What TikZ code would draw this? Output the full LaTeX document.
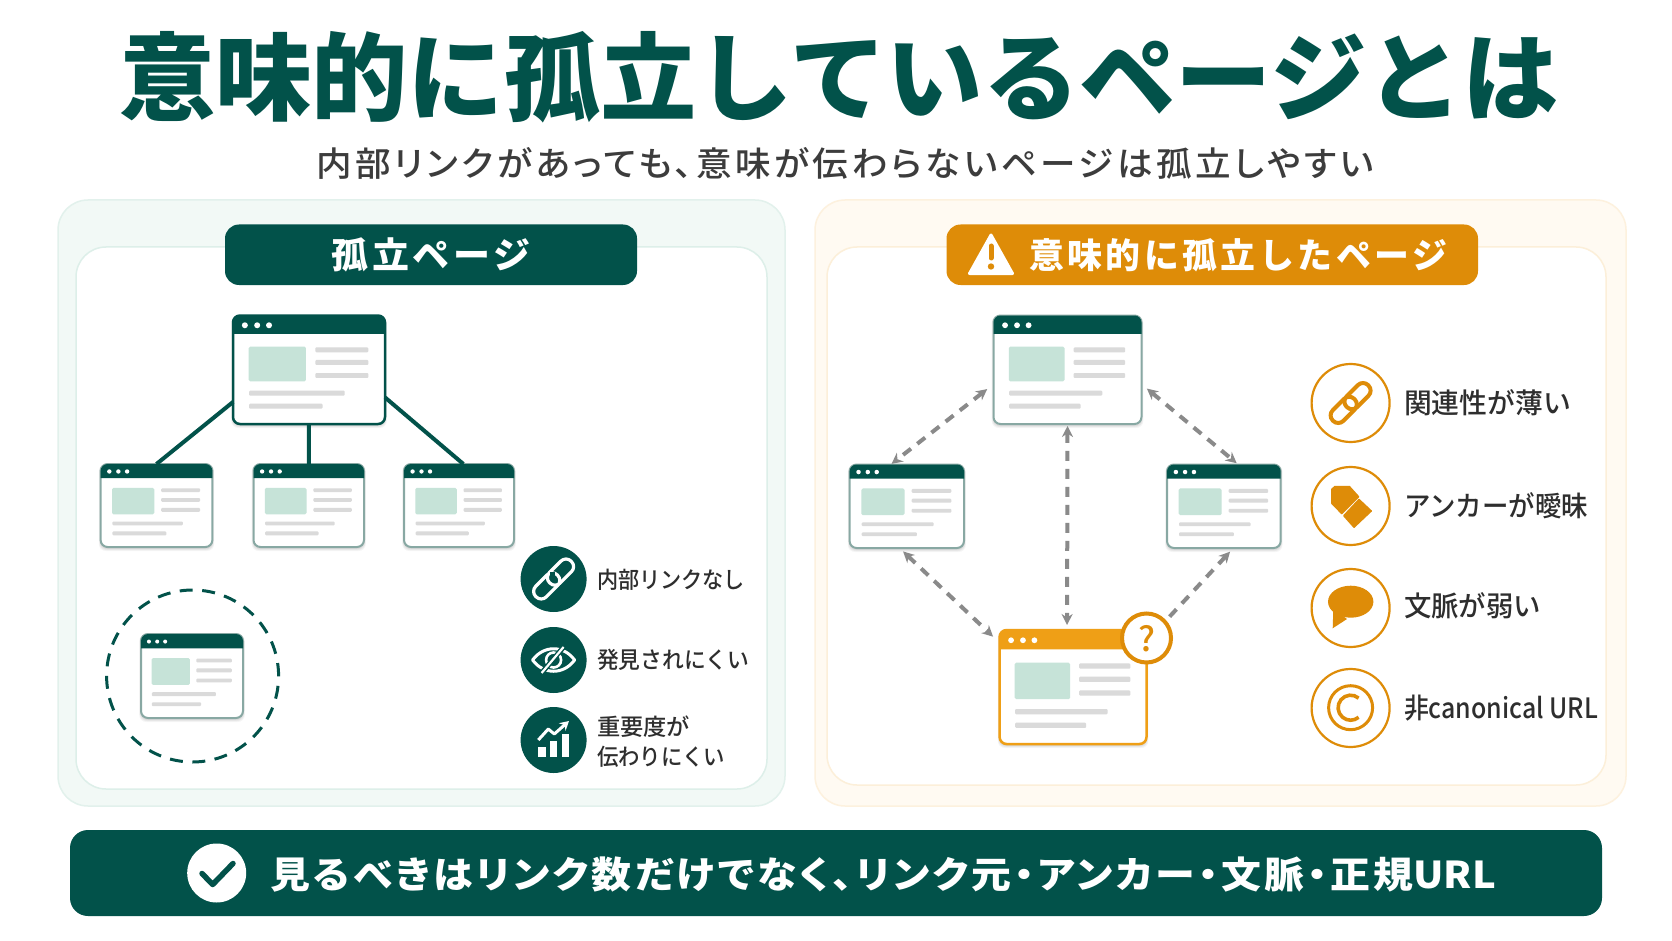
\documentclass[tikz,border=0pt]{standalone}
\usepackage{graphicx}
\usepackage{fontspec}
\usetikzlibrary{fit,arrows.meta,calc}
\newfontfamily\jp{Noto Sans CJK JP}
\newfontfamily\jpm{Noto Sans CJK JP Medium}
\newfontfamily\jpsub{Noto Sans CJK JP Medium}[RawFeature=+palt,LetterSpace=10]
\newfontfamily\jpbar{Noto Sans CJK JP}[RawFeature=+palt,LetterSpace=8]
\newfontfamily\jppill{Noto Sans CJK JP}[LetterSpace=10]
\newcommand\nakaguro{\kern3pt・\kern3pt}
\definecolor{dk}{HTML}{02524A}
\definecolor{org}{HTML}{DE8C08}
\definecolor{orgl}{HTML}{EF9F16}
\definecolor{imgc}{HTML}{C6E3D8}
\definecolor{gl}{HTML}{DADADA}
\definecolor{gbd}{HTML}{88A8A3}
\definecolor{txt}{HTML}{2E2E2E}
\definecolor{subt}{HTML}{3C3C3C}
\definecolor{arr}{HTML}{8A8A8A}
\definecolor{lofill}{HTML}{F2F9F6}
\definecolor{lobd}{HTML}{E2F1EC}
\definecolor{libd}{HTML}{DDEFE9}
\definecolor{rofill}{HTML}{FFFAF2}
\definecolor{robd}{HTML}{FDF1DE}
\definecolor{ribd}{HTML}{FCEFD9}
\tikzset{
 box/.style={inner sep=0pt,outer sep=0pt,rounded corners=#1},
 box/.default=30pt,
 txtnode/.style={inner sep=0pt,outer sep=0pt},
 dasharrow/.style={draw=arr,line width=4pt,dash pattern=on 10pt off 8pt},
 bothtips/.style={{Stealth[length=11pt,width=11pt]}-{Stealth[length=11pt,width=11pt]}},
 endtip/.style={-{Stealth[length=11pt,width=11pt]}},
 iconline/.style={line width=#1,line cap=round,line join=round},
}
% #1 name #2 x1 #3 y1 #4 x2 #5 y2 #6 header colour #7 border colour #8 line width
\newcommand\browser[8]{%
 \foreach \d/\o in {1/.06,2/.05,3/.04}{\fill[black,opacity=\o,rounded corners=7pt] ($(#2-\d*.6,#3)$) rectangle ($(#4+\d*.6,#5+\d+1)$);}%
 \node[fit={(#2,#3)(#4,#5)},box=7pt,draw=#7,fill=white,line width=#8pt] (#1) {};
 \pgfmathsetmacro\bw{#4-#2}\pgfmathsetmacro\bh{#5-#3}\pgfmathsetmacro\rd{\bw*3/152}%
 \begin{scope}[shift={(#2,#3)},x=\bw pt,y=-\bh pt]
  \fill[#6] (0,.17) {[rounded corners=7pt] -- (0,0) -- (1,0)} -- (1,.17) -- cycle;
  \foreach \q in {.078,.159,.237}{\fill[white] (\q,.09) circle[radius=\rd pt];}
  \fill[imgc,rounded corners=1.5pt] (.103,.287) rectangle (.48,.607);
  \foreach \q in {.316,.433,.553}{\fill[gl,rounded corners=1pt] (.542,\q-.023) rectangle (.89,\q+.023);}
  \fill[gl,rounded corners=1pt] (.106,.716-.023) rectangle (.735,.716+.023);
  \fill[gl,rounded corners=1pt] (.106,.836-.023) rectangle (.589,.836+.023);
 \end{scope}
}
% #1 name #2 x #3 y #4 width #5 anchor #6 colour #7 font #8 size #9 text
\newcommand\lab[9]{\node[txtnode,anchor=#5,text=#6] (#1) at (#2,#3) {\resizebox{#4pt}{\height}{#7\fontsize{#8}{#8}\selectfont #9}};}
\newcommand\chain[4]{%
 \begin{scope}[shift={(#1,#2)},rotate=45]
  \draw[#3,line width=#4pt,rounded corners=7.2pt] (-25,-7.5) rectangle (5.5,7.5);
  \draw[#3,line width=#4pt,rounded corners=7.2pt] (-5.5,-7.5) rectangle (25,7.5);
 \end{scope}}
\begin{document}
\begin{tikzpicture}[x=1pt,y=-1pt]
\useasboundingbox (0,0) rectangle (1672,941);
\fill[white] (0,0) rectangle (1672,941);
% title
\lab{title}{119}{77}{1440}{west}{dk}{\jp\bfseries}{96}{意味的に孤立しているページとは}
\lab{subtitle}{316}{163}{1058}{west}{subt}{\jpsub}{34}{内部リンクがあっても、意味が伝わらないページは孤立しやすい}
% left panel
\node[fit={(58,200)(785,806)},box,draw=lobd,fill=lofill,line width=1.5pt] (lo) {};
\node[fit={(76,247)(767,789)},box,draw=libd,fill=white,line width=1.5pt] (li) {};
\node[fit={(225,224.5)(637,285)},box=14pt,fill=dk] (lp) {};
\lab{lpt}{431}{255}{199}{center}{white}{\jppill\bfseries}{36}{孤立ページ}
\browser{lroot}{233}{315.5}{385}{424}{dk}{dk}{2.5}
\browser{la}{100.6}{464}{212.4}{547}{dk}{gbd}{2}
\browser{lb}{253.5}{464}{364}{547}{dk}{gbd}{2}
\browser{lc}{404}{464}{514}{547}{dk}{gbd}{2}
\draw[dk,line width=4pt] (lroot.203) -- (la.north);
\draw[dk,line width=4pt] (lroot.south) -- (lb.north);
\draw[dk,line width=4pt] (lroot.-20) -- (lc.84);
\node[draw=dk,circle,line width=3pt,dash pattern=on 13pt off 9.5pt,minimum size=172pt,inner sep=0pt,outer sep=0pt] (iso) at (192.6,676) {};
\browser{lz}{141}{634}{243}{718}{dk}{gbd}{2}
% left icons
\node[circle,fill=dk,minimum size=66pt,inner sep=0pt] (ic1) at (553.6,579) {};
\node[circle,fill=dk,minimum size=66pt,inner sep=0pt] (ic2) at (553.6,660) {};
\node[circle,fill=dk,minimum size=66pt,inner sep=0pt] (ic3) at (553.6,740) {};
\chain{553.6}{579}{white}{3.2}
\fill[dk] (550,572) rectangle (555,577);
\begin{scope}[shift={(553.6,660)}]
 \draw[white,iconline=3pt] (-21,0) .. controls (-10,-15) and (10,-15) .. (21,0) .. controls (10,15) and (-10,15) .. (-21,0) -- cycle;
 \draw[white,line width=2.6pt] (0,0) circle[radius=7.5pt];
 \draw[dk,line width=5pt] (-12,13) -- (10,-13);
 \draw[white,line width=2.2pt] (-12,13) -- (10,-13);
\end{scope}
\fill[white] (537.7,746.7) rectangle (545.7,757.3);
\fill[white] (550,740.7) rectangle (557.3,757.3);
\fill[white] (562.3,734) rectangle (569.3,757.3);
\draw[white,line width=3pt,line join=round,-{Stealth[length=9pt,width=10pt]}] (538.3,740) -- (548.3,729) -- (554.3,734) -- (569,721);
\lab{t1}{597}{580}{148}{west}{txt}{\jpm}{23}{内部リンクなし}
\lab{t2}{597}{660}{152}{west}{txt}{\jpm}{23}{発見されにくい}
\lab{t3}{597}{727}{93}{west}{txt}{\jpm}{23}{重要度が}
\lab{t4}{597}{757}{128}{west}{txt}{\jpm}{23}{伝わりにくい}
% right panel
\node[fit={(815,200)(1626,806)},box,draw=robd,fill=rofill,line width=1.5pt] (ro) {};
\node[fit={(827,247)(1606,785)},box,draw=ribd,fill=white,line width=1.5pt] (ri) {};
\node[fit={(946.5,224.5)(1478,285)},box=14pt,fill=org] (rp) {};
\fill[white,draw=white,line width=3pt,line join=round] (991,235) -- (1012.5,273.5) -- (969.5,273.5) -- cycle;
\draw[org,line width=5pt,line cap=round] (991,246) -- (991,258);
\fill[org] (991,266.5) circle[radius=3.2pt];
\lab{rpt}{1029}{255}{418}{west}{white}{\jppill\bfseries}{35}{意味的に孤立したページ}
\browser{rtop}{993.5}{315.5}{1141.5}{424}{dk}{gbd}{2}
\browser{rleft}{849.6}{464.5}{964}{548}{dk}{gbd}{2}
\browser{rright}{1167}{464.5}{1280.7}{548}{dk}{gbd}{2}
\browser{rq}{999.6}{630}{1146.5}{744}{orgl}{orgl}{2.5}
\node[circle,draw=org,fill=white,line width=4pt,minimum size=49pt,inner sep=0pt] (qb) at (1146.5,638) {};
\lab{qm}{1146.5}{639}{17}{center}{org}{\jpm}{34}{?}
\draw[dasharrow,bothtips,shorten <=8pt,shorten >=1pt] (rtop.191) -- (rleft.111);
\draw[dasharrow,bothtips,shorten <=7pt,shorten >=2pt] (rtop.-11) -- (rright.71);
\draw[dasharrow,bothtips,shorten <=2pt,shorten >=5pt] (rtop.south) -- (rq.96);
\draw[dasharrow,bothtips,shorten <=5pt,shorten >=9pt] (rleft.260) -- (rq.149);
\draw[dasharrow,endtip,shorten <=5pt,shorten >=5pt] (qb.42) -- (rright.283);
% right icons
\foreach \n/\yy in {r1/403,r2/506,r3/608,r4/708}{
 \node[circle,draw=org,fill=white,line width=2.2pt,minimum size=78pt,inner sep=0pt] (\n) at (1350.6,\yy) {};}
\chain{1350.6}{403}{org}{4}
\fill[org,draw=org,line width=1.5pt,line join=round] (1331.8,489.3) -- (1335,486.5) -- (1349.3,486.5) -- (1358.5,496.7) -- (1341.7,513.5) -- (1331.8,503.3) -- cycle;
\fill[org,draw=org,line width=1.5pt,line join=round] (1359,499.5) -- (1371.2,511) -- (1354,527.2) -- (1343.8,515.7) -- cycle;
\fill[org] (1350.7,601.7) ellipse[x radius=22.7pt,y radius=16pt];
\fill[org] (1333.3,609) -- (1332.7,628.3) -- (1347,619) -- cycle;
\draw[org,line width=3pt] (1350.6,707.7) circle[radius=22pt];
\begin{scope}[shift={(1350.6,707.7)},y=1pt]
 \draw[org,line width=3.6pt] (50:12.5) arc[start angle=50,end angle=310,radius=12.5pt];
\end{scope}
\lab{u1}{1404}{403}{167}{west}{txt}{\jpm}{28}{関連性が薄い}
\lab{u2}{1404}{506}{184}{west}{txt}{\jpm}{28}{アンカーが曖昧}
\lab{u3}{1404}{606}{137}{west}{txt}{\jpm}{28}{文脈が弱い}
\lab{u4}{1404}{708}{194}{west}{txt}{\jpm}{28}{非canonical URL}
% bottom bar
\node[fit={(70,830)(1602,916)},box=18pt,fill=dk] (bar) {};
\node[circle,fill=white,minimum size=59pt,inner sep=0pt] (chk) at (216.7,873) {};
\draw[dk,line width=5.5pt,line cap=round,line join=round] (202,873.5) -- (212.7,884.5) -- (233,863.5);
\lab{bt}{270}{875}{1226}{west}{white}{\jpbar\bfseries}{37}{見るべきはリンク数だけでなく、リンク元\nakaguro アンカー\nakaguro 文脈\nakaguro 正規{\addfontfeature{LetterSpace=0}URL}}
\end{tikzpicture}
\end{document}
